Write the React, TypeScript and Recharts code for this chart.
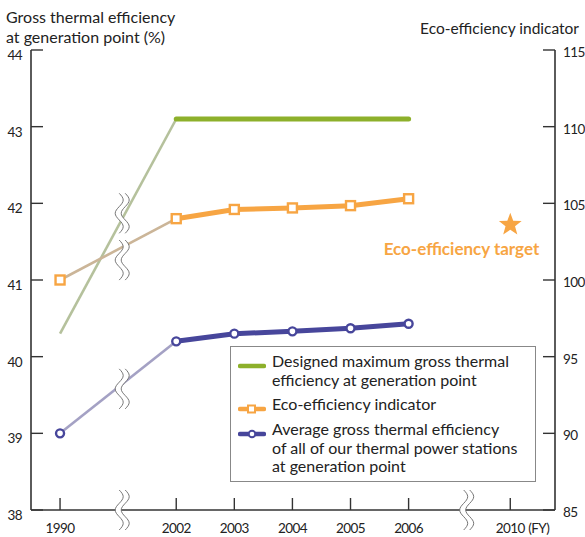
import React from "react";
import {
  ComposedChart, Line, Scatter, XAxis, YAxis, ReferenceDot, Legend,
} from "recharts";

const FONT = "Lato, 'Open Sans', sans-serif";

const GREEN = "#8db02b";
const GREEN_EARLY = "#b5c19c";
const ORANGE = "#f7a543";
const ORANGE_EARLY = "#cbb598";
const BLUE = "#47469b";
const BLUE_EARLY = "#a4a1c4";
const AXIS = "#333";

// fiscal years and where they sit on the (broken) x scale
const years = ["1990", "2002", "2003", "2004", "2005", "2006", "2010"];
const yearPos = [0, 2, 3, 4, 5, 6, 7.75];

// left axis (%)
const designedMax = [40.3, 43.1, 43.1, 43.1, 43.1, 43.1, null];
const avgEfficiency = [39.0, 40.2, 40.3, 40.33, 40.37, 40.43, null];
// right axis (index)
const ecoIndicator = [100, 104.0, 104.6, 104.7, 104.85, 105.3, null];
const ecoTarget = [{ pos: 7.75, value: 103.6 }];

const leftTicks = [38, 39, 40, 41, 42, 43, 44];
const rightTicks = [85, 90, 95, 100, 105, 110, 115];

// axis-break marks, in left-axis units
const breakMarks = [
  { pos: 1.07, value: 41.87 },
  { pos: 1.07, value: 41.26 },
  { pos: 1.07, value: 39.58 },
  { pos: 1.07, value: 38 },
  { pos: 7.0, value: 38 },
];

const legendItems = [
  { lines: ["Designed maximum gross thermal", "efficiency at generation point"], color: GREEN, marker: "none" },
  { lines: ["Eco-efficiency indicator"], color: ORANGE, marker: "square" },
  { lines: ["Average gross thermal efficiency", "of all of our thermal power stations", "at generation point"], color: BLUE, marker: "circle" },
];

const data = years.map((y, i) => ({
  pos: yearPos[i],
  greenEarly: i <= 1 ? designedMax[i] : null,
  green: i >= 1 ? designedMax[i] : null,
  orangeEarly: i <= 1 ? ecoIndicator[i] : null,
  orange: i >= 1 ? ecoIndicator[i] : null,
  blueEarly: i <= 1 ? avgEfficiency[i] : null,
  blue: i >= 1 ? avgEfficiency[i] : null,
}));

const SquareDot = (p: any) => {
  if (p.cx == null || p.cy == null) return <g key={`sq${p.index}`} />;
  return (
    <rect key={`sq${p.index}`} x={p.cx - 4.5} y={p.cy - 4.5} width={9} height={9}
      fill="#fff" stroke={ORANGE} strokeWidth={2.4} />
  );
};

const CircleDot = (p: any) => {
  if (p.cx == null || p.cy == null) return <g key={`ci${p.index}`} />;
  return <circle key={`ci${p.index}`} cx={p.cx} cy={p.cy} r={4} fill="#fff" stroke={BLUE} strokeWidth={2.4} />;
};

const firstOnly = (Dot: any) => (p: any) =>
  p.index === 0 ? Dot(p) : <g key={`n${p.index}`} />;

const starPath = (cx: number, cy: number, ro: number, ri: number) => {
  let d = "";
  for (let k = 0; k < 10; k++) {
    const r = k % 2 === 0 ? ro : ri;
    const a = -Math.PI / 2 + (k * Math.PI) / 5;
    d += (k === 0 ? "M" : "L") + (cx + r * Math.cos(a)).toFixed(2) + "," + (cy + r * Math.sin(a)).toFixed(2);
  }
  return d + "Z";
};

const TargetShape = (p: any) => (
  <g>
    <path d={starPath(p.cx, p.cy, 12, 5)} fill={ORANGE} />
    <text x={p.cx + 29} y={p.cy + 30} textAnchor="end" fill={ORANGE}
      fontFamily={FONT} fontWeight={700} fontSize={17}>
      Eco-efficiency target
    </text>
  </g>
);

const wave = (cx: number, cy: number, off: number, h: number, a: number, reverse: boolean) => {
  const pts: string[] = [];
  const n = 24;
  for (let k = 0; k <= n; k++) {
    const t = reverse ? 1 - k / n : k / n;
    const x = cx + off + a * Math.sin(3 * Math.PI * t);
    const y = cy - h / 2 + t * h;
    pts.push(x.toFixed(2) + "," + y.toFixed(2));
  }
  return pts;
};

const BreakShape = (p: any) => {
  const { cx, cy } = p;
  const h = 40, a = 4, d = 3;
  const left = wave(cx, cy, -d, h, a, false);
  const right = wave(cx, cy, d, h, a, true);
  return (
    <g>
      <path d={"M" + left.join("L") + "L" + right.join("L") + "Z"} fill="#fff" />
      <path d={"M" + left.join("L")} fill="none" stroke="#666" strokeWidth={0.9} />
      <path d={"M" + right.join("L")} fill="none" stroke="#666" strokeWidth={0.9} />
    </g>
  );
};

const tickText = { fontFamily: FONT, fontSize: 13.5, fill: "#222", letterSpacing: -0.6 };

const XTick = (p: any) => {
  const { x, y, payload } = p;
  const i = yearPos.indexOf(payload.value);
  const label = years[i];
  return (
    <g>
      <line x1={x} x2={x} y1={y} y2={y - 12} stroke={AXIS} strokeWidth={1.4} />
      <text x={x} y={y + 23} textAnchor="middle" {...tickText}>{label}</text>
      {label === "2010" && (
        <text x={x + 18} y={y + 23} textAnchor="start" {...tickText}>(FY)</text>
      )}
    </g>
  );
};

const LeftTick = (p: any) => {
  const { x, y, payload } = p;
  return (
    <g>
      <line x1={x} x2={x + 12} y1={y} y2={y} stroke={AXIS} strokeWidth={1.4} />
      <text x={x - 9} y={y + 10} textAnchor="end" {...tickText}>{payload.value}</text>
    </g>
  );
};

const RightTick = (p: any) => {
  const { x, y, payload } = p;
  return (
    <g>
      <line x1={x} x2={x - 12} y1={y} y2={y} stroke={AXIS} strokeWidth={1.4} />
      <text x={x + 8} y={y + 7} textAnchor="start" {...tickText}>{payload.value}</text>
    </g>
  );
};

const LegendIcon = ({ color, marker }: { color: string; marker: string }) => (
  <svg width={28} height={10} style={{ flex: "none", marginTop: 9 }}>
    <line x1={2} x2={26} y1={5} y2={5} stroke={color} strokeWidth={4.5} strokeLinecap="round" />
    {marker === "square" && <rect x={10} y={1.5} width={7} height={7} fill="#fff" stroke={color} strokeWidth={2} />}
    {marker === "circle" && <circle cx={14} cy={5} r={3.3} fill="#fff" stroke={color} strokeWidth={2} />}
  </svg>
);

const LegendBox = () => (
  <div style={{
    width: 306, height: 136, boxSizing: "border-box", border: "1px solid #888", background: "#fff",
    padding: "5px 6px 0 7px", fontFamily: FONT, fontSize: 16, lineHeight: "18.5px", color: "#222",
  }}>
    {legendItems.map((it) => (
      <div key={it.lines[0]} style={{ display: "flex", alignItems: "flex-start", marginBottom: 6 }}>
        <LegendIcon color={it.color} marker={it.marker} />
        <div style={{ marginLeft: 6, whiteSpace: "nowrap" }}>
          {it.lines.map((l) => <div key={l}>{l}</div>)}
        </div>
      </div>
    ))}
  </div>
);

export default function App() {
  return (
    <div style={{ position: "absolute", left: 0, top: 0, width: 585, height: 537, background: "#fff" }}>
      <div style={{ position: "absolute", left: 6, top: 7, fontFamily: FONT, fontSize: 16, lineHeight: "19.5px", color: "#222" }}>
        Gross thermal efficiency<br />at generation point (%)
      </div>
      <div style={{ position: "absolute", right: 6, top: 19, fontFamily: FONT, fontSize: 15.5, lineHeight: "19.5px", color: "#222" }}>
        Eco-efficiency indicator
      </div>
      <div style={{ position: "absolute", left: 0, top: 0 }}>
        <ComposedChart width={585} height={537} data={data}
          margin={{ top: 50, right: 5, bottom: 7, left: 6 }}>
          <XAxis dataKey="pos" type="number" domain={[-0.5, 8.52]} ticks={yearPos}
            allowDataOverflow interval={0} height={20} tickSize={0} tickMargin={0}
            tickLine={false} tick={<XTick />} axisLine={{ stroke: AXIS, strokeWidth: 1.6 }} />
          <YAxis yAxisId="left" orientation="left" domain={[38, 44]} ticks={leftTicks}
            width={25} tickSize={0} tickMargin={0} tickLine={false} tick={<LeftTick />}
            interval={0} axisLine={{ stroke: AXIS, strokeWidth: 1.6 }} />
          <YAxis yAxisId="right" orientation="right" domain={[85, 115]} ticks={rightTicks}
            width={25} tickSize={0} tickMargin={0} tickLine={false} tick={<RightTick />}
            interval={0} axisLine={{ stroke: AXIS, strokeWidth: 1.6 }} />

          <Line yAxisId="left" dataKey="greenEarly" stroke={GREEN_EARLY} strokeWidth={2.6}
            dot={false} isAnimationActive={false} legendType="none" />
          <Line yAxisId="right" dataKey="orangeEarly" stroke={ORANGE_EARLY} strokeWidth={2.6}
            dot={firstOnly(SquareDot)} isAnimationActive={false} legendType="none" />
          <Line yAxisId="left" dataKey="blueEarly" stroke={BLUE_EARLY} strokeWidth={2.6}
            dot={firstOnly(CircleDot)} isAnimationActive={false} legendType="none" />

          <Line yAxisId="left" dataKey="green" stroke={GREEN} strokeWidth={5}
            strokeLinecap="round" dot={false} isAnimationActive={false} />
          <Line yAxisId="right" dataKey="orange" stroke={ORANGE} strokeWidth={5}
            dot={SquareDot} isAnimationActive={false} />
          <Line yAxisId="left" dataKey="blue" stroke={BLUE} strokeWidth={5}
            dot={CircleDot} isAnimationActive={false} />

          <Scatter yAxisId="right" data={ecoTarget} dataKey="value" shape={TargetShape}
            isAnimationActive={false} legendType="none" />

          {breakMarks.map((b, i) => (
            <ReferenceDot key={i} yAxisId="left" x={b.pos} y={b.value} ifOverflow="visible"
              shape={BreakShape} />
          ))}

          <Legend layout="vertical" align="center" verticalAlign="middle"
            wrapperStyle={{ left: 230, top: 346, width: 306, height: 136 }}
            content={() => <LegendBox />} />
        </ComposedChart>
      </div>
    </div>
  );
}
